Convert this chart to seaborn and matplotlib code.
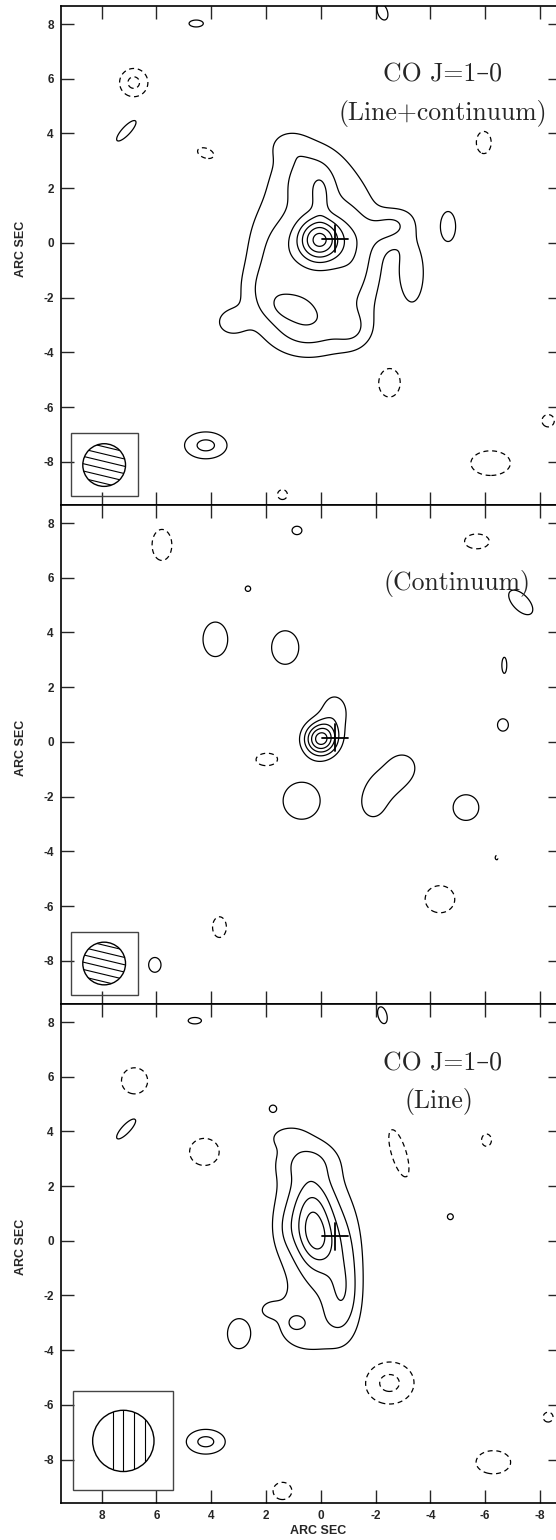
import numpy as np
import matplotlib
matplotlib.use("Agg")
import matplotlib.pyplot as plt
import seaborn as sns
from matplotlib.patches import Rectangle, Circle

# emission components: x, y (arcsec), peak, sigma_major, sigma_minor, angle (deg)
line_cont_comps = np.array([
    [0.05, 0.12, 5.0, 0.54, 0.54, 0],
    [0.3, -0.4, 2.4, 1.5, 1.9, 0],
    [0.4, 2.5, 1.8, 0.9, 0.9, 0],
    [1.2, 3.6, 0.9, 0.5, 0.4, 0],
    [0.0, 1.7, 1.0, 0.22, 0.5, 0],
    [0.5, -3.0, 2.0, 1.1, 0.8, 0],
    [1.8, -0.5, 0.8, 0.6, 1.2, 0],
    [-1.3, -0.3, 1.4, 0.6, 1.6, 0],
    [-2.6, 0.6, 1.8, 0.6, 0.45, -25],
    [-3.35, -1.1, 1.6, 0.38, 1.0, 0],
    [3.3, -2.9, 1.3, 0.45, 0.4, 0],
    [-1.2, -3.2, 1.0, 0.5, 0.5, 0],
    [2.2, -1.8, 0.9, 0.6, 0.7, 0],
    [1.2, -2.3, 0.9, 0.5, 0.35, 0],
    [4.55, 8.02, 1.5, 0.29, 0.14, 0],
    [-2.25, 8.45, 1.5, 0.35, 0.2, 70],
    [7.1, 4.1, 1.5, 0.55, 0.17, 133],
    [-4.65, 0.6, 1.5, 0.3, 0.6, 0],
    [4.2, -7.4, 2.3, 0.6, 0.38, 0],
    [6.83, 5.86, -2.3, 0.4, 0.4, 0],
    [4.2, 3.28, -1.5, 0.35, 0.2, 20],
    [-5.95, 3.67, -1.5, 0.3, 0.45, 0],
    [-2.5, -5.1, -1.5, 0.45, 0.6, 0],
    [-6.2, -8.05, -1.5, 0.8, 0.5, 0],
    [-8.3, -6.5, -1.5, 0.25, 0.25, 0],
    [1.4, -9.2, -1.5, 0.2, 0.2, 0],
])

continuum_comps = np.array([
    [0.0, 0.1, 5.4, 0.42, 0.42, 0],
    [-0.5, 1.1, 1.5, 0.45, 0.6, 0],
    [0.87, 7.73, 1.5, 0.2, 0.17, 0],
    [2.66, 5.6, 1.5, 0.11, 0.11, 0],
    [3.85, 3.75, 1.5, 0.5, 0.7, 0],
    [1.3, 3.45, 1.5, 0.55, 0.68, 0],
    [-7.3, 5.1, 1.5, 0.62, 0.32, 46],
    [-6.7, 2.8, 1.5, 0.1, 0.33, 0],
    [-6.65, 0.62, 1.5, 0.22, 0.25, 0],
    [0.7, -2.15, 1.5, 0.75, 0.75, 0],
    [-3.0, -0.9, 1.4, 0.45, 0.45, 0],
    [-2.4, -1.5, 1.3, 0.55, 0.5, 0],
    [-1.9, -2.3, 1.3, 0.45, 0.55, 0],
    [-5.3, -2.4, 1.5, 0.52, 0.52, 0],
    [6.06, -8.15, 1.5, 0.25, 0.3, 0],
    [5.8, 7.2, -1.5, 0.4, 0.63, 0],
    [-5.7, 7.33, -1.5, 0.5, 0.3, 0],
    [1.95, -0.65, -1.5, 0.47, 0.27, 0],
    [-4.35, -5.75, -1.5, 0.6, 0.55, 0],
    [3.7, -6.77, -1.5, 0.28, 0.42, 0],
    [-6.42, -4.23, -1.5, 0.06, 0.09, 0],
])

line_comps = np.array([
    [0.2, 0.2, 1.9, 0.42, 0.7, -10],
    [0.2, 0.4, 2.0, 0.8, 1.3, -8],
    [0.2, 0.3, 1.8, 0.95, 2.6, -6],
    [0.5, 2.9, 1.1, 0.8, 0.5, 0],
    [0.3, 1.5, 0.8, 0.45, 0.6, 0],
    [1.3, 3.8, 0.8, 0.5, 0.3, 0],
    [-1.0, -0.6, 0.7, 0.4, 1.2, 0],
    [1.3, 0.4, 0.5, 0.35, 0.6, 0],
    [-0.8, -2.2, 1.7, 0.45, 1.0, 0],
    [0.9, -2.6, 0.7, 0.6, 0.6, 0],
    [0.6, -3.4, 1.0, 0.8, 0.55, 0],
    [1.9, -2.5, 0.9, 0.35, 0.3, 0],
    [1.0, -3.0, 0.7, 0.2, 0.2, 0],
    [3.0, -3.4, 1.5, 0.45, 0.6, 0],
    [4.2, -7.35, 2.3, 0.55, 0.35, 0],
    [7.1, 4.1, 1.5, 0.55, 0.17, 133],
    [1.75, 4.83, 1.5, 0.12, 0.12, 0],
    [4.6, 8.05, 1.5, 0.27, 0.13, 0],
    [-2.25, 8.25, 1.5, 0.35, 0.18, 75],
    [-4.73, 0.88, 1.5, 0.12, 0.12, 0],
    [-7.22, 4.6, 1.5, 0.03, 0.03, 0],
    [6.8, 5.85, -1.5, 0.53, 0.53, 0],
    [4.25, 3.25, -1.5, 0.6, 0.55, 0],
    [-2.85, 3.2, -1.5, 1.0, 0.3, 73],
    [-6.05, 3.68, -1.5, 0.2, 0.25, 0],
    [-2.5, -5.2, -2.3, 0.7, 0.6, 0],
    [-6.3, -8.1, -1.5, 0.7, 0.47, 0],
    [-8.3, -6.45, -1.5, 0.2, 0.2, 0],
    [1.4, -9.15, -1.5, 0.38, 0.35, 0],
])

pos_levels = [1, 2, 3, 4, 5, 6, 7]
neg_levels = [-2, -1]

titles = [["CO J=1–0", "(Line+continuum)"], ["(Continuum)"], ["CO J=1–0", "(Line)"]]
title_pos = [[(-4.44, 5.89), (-4.44, 4.51)], [(-4.96, 5.56)], [(-4.44, 6.22), (-4.30, 4.85)]]

# beam: box (x0, x1, y0, y1), circle (x, y, r)
beam_boxes = [(9.13, 6.69, -6.94, -9.25), (9.13, 6.69, -6.94, -9.25), (9.03, 5.41, -5.50, -9.10)]
beam_circles = [(7.91, -8.12, 0.78), (7.91, -8.10, 0.78), (7.21, -7.32, 1.12)]

cross = (-0.53, 0.16, 0.48)
ticks = [8, 6, 4, 2, 0, -2, -4, -6, -8]


def field(comps, X, Y):
    Z = np.zeros_like(X)
    for x0, y0, a, sx, sy, ang in comps:
        t = np.deg2rad(ang)
        dx, dy = X - x0, Y - y0
        u = dx * np.cos(t) + dy * np.sin(t)
        v = -dx * np.sin(t) + dy * np.cos(t)
        Z += a * np.exp(-0.5 * ((u / sx) ** 2 + (v / sy) ** 2))
    return Z


sns.set_style("ticks")
plt.rcParams["font.family"] = ["Liberation Sans", "DejaVu Sans"]
plt.rcParams["axes.unicode_minus"] = False

fig = plt.figure(figsize=(5.56, 15.4), dpi=100)
rects = [[0.1103, 0.67208, 0.8987, 0.32403],
         [0.1103, 0.34805, 0.8987, 0.32403],
         [0.1103, 0.02422, 0.8987, 0.32383]]

gx = np.arange(9.8, -9.8, -0.04)
gy = np.arange(-9.9, 9.0, 0.04)
X, Y = np.meshgrid(gx, gy)

for i, comps in enumerate([line_cont_comps, continuum_comps, line_comps]):
    ax = fig.add_axes(rects[i])
    Z = field(comps, X, Y)
    ax.contour(X, Y, Z, levels=pos_levels, colors="black", linewidths=0.9,
               linestyles="solid")
    ax.contour(X, Y, Z, levels=neg_levels, colors="black", linewidths=0.9,
               linestyles=[(0, (4, 3))])

    # reference position
    cx, cy, h = cross
    ax.plot([cx - h, cx + h], [cy, cy], color="black", lw=1.3)
    ax.plot([cx, cx], [cy - h, cy + h], color="black", lw=1.3)

    for txt, (tx, ty) in zip(titles[i], title_pos[i]):
        ax.text(tx, ty, txt, ha="center", va="baseline", fontsize=18.5,
                family=["cmr10", "DejaVu Serif"])

    # beam
    bx0, bx1, by0, by1 = beam_boxes[i]
    ax.add_patch(Rectangle((bx1, by1), bx0 - bx1, by0 - by1, fill=False,
                           edgecolor="#444444", lw=1.0))
    bcx, bcy, br = beam_circles[i]
    circ = Circle((bcx, bcy), br, fill=False, edgecolor="black", lw=1.0)
    ax.add_patch(circ)
    if i < 2:
        ang = np.deg2rad(13.5)
        d = np.array([-np.cos(ang), -np.sin(ang)])
        nrm = np.array([-d[1], d[0]])
        for off in [-0.65, -0.39, -0.13, 0.13, 0.39, 0.65]:
            p = np.array([bcx, bcy]) + off * nrm
            ln, = ax.plot([p[0] - 2 * d[0], p[0] + 2 * d[0]],
                          [p[1] - 2 * d[1], p[1] + 2 * d[1]], color="black", lw=0.8)
            ln.set_clip_path(circ)
    else:
        for lx in [7.6, 7.21, 6.82, 6.43]:
            ln, = ax.plot([lx, lx], [bcy - 2, bcy + 2], color="black", lw=0.8)
            ln.set_clip_path(circ)

    ax.set_xlim(9.474, -8.77)
    ax.set_ylim(-9.58, 8.66)
    ax.set_xticks(ticks)
    ax.set_yticks(ticks)
    ax.tick_params(direction="in", length=9.1, width=1.0, top=True, right=True,
                   labelsize=8.5, pad=5.5)
    for lab in ax.get_xticklabels() + ax.get_yticklabels():
        lab.set_fontweight("bold")
    if i < 2:
        ax.tick_params(labelbottom=False)
    else:
        ax.set_xlabel("ARC SEC", fontsize=9, fontweight="bold")
        ax.xaxis.set_label_coords(0.513, -0.044)
    ax.set_ylabel("ARC SEC", fontsize=9, fontweight="bold", va="center")
    ax.yaxis.set_label_coords(-0.0812, 0.513)
    for s in ax.spines.values():
        s.set_linewidth(1.2)
        s.set_color("black")

fig.savefig("out.png", dpi=100)
